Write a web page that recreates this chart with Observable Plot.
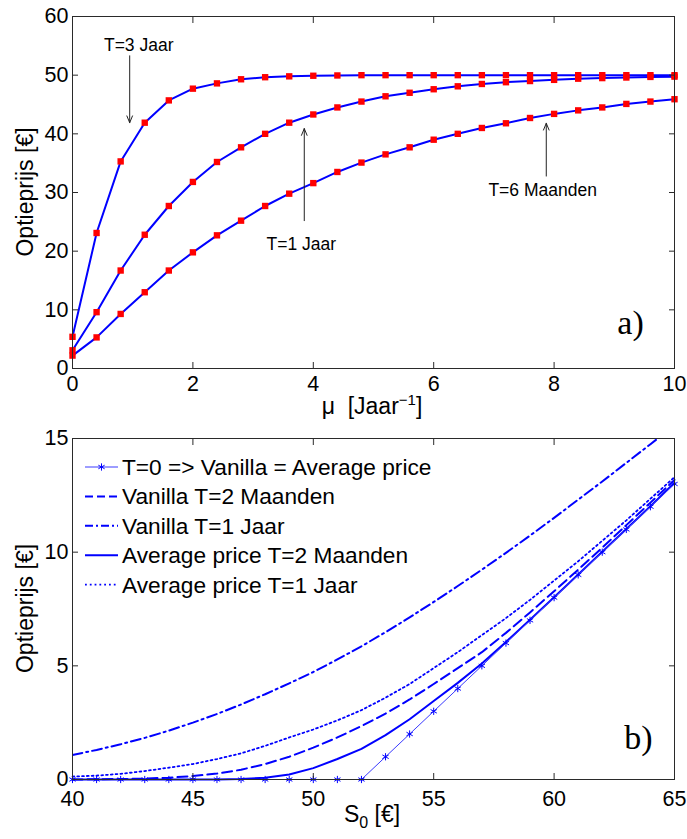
<!DOCTYPE html>
<html><head><meta charset="utf-8">
<script src="https://cdn.jsdelivr.net/npm/d3@7"></script>
<script src="https://cdn.jsdelivr.net/npm/@observablehq/plot@0.6"></script>
<style>
body{margin:0;background:#fff;font-family:"Liberation Sans",Arial,sans-serif}
#chart{width:687px}
svg{display:block}
</style></head><body><div id="chart"></div>
<script>
// ---------- Panel a) data ----------
const muValues = [0,0.4,0.8,1.2,1.6,2.0,2.4,2.8,3.2,3.6,4.0,4.4,4.8,5.2,5.6,6.0,6.4,6.8,7.2,7.6,8.0,8.4,8.8,9.2,9.6,10];
const priceT6m = [2.2,5.3,9.3,13.0,16.7,19.8,22.7,25.2,27.7,29.8,31.6,33.5,35.1,36.5,37.7,39.0,40.0,41.0,41.8,42.7,43.4,44.0,44.5,45.1,45.5,45.9];
const priceT1y = [3.1,9.6,16.7,22.8,27.7,31.8,35.2,37.7,40.0,41.9,43.3,44.5,45.5,46.4,47.0,47.6,48.1,48.5,48.8,49.0,49.2,49.4,49.5,49.6,49.7,49.75];
const priceT3y = [5.4,23.1,35.3,41.9,45.7,47.7,48.6,49.3,49.65,49.8,49.9,49.95,50,50,50,50,50,50,50,50,50,50,50,50,50,50];
const seriesNamesA = ["T=6 Maanden","T=1 Jaar","T=3 Jaar"];
const xTicksA = [0,2,4,6,8,10];
const yTicksA = [0,10,20,30,40,50,60];
// annotations (data space)
const annotLabels = ["T=3 Jaar","T=1 Jaar","T=6 Maanden"];
const annotTextMu = [1.1,3.8,7.81];
const annotTextPrice = [55.0,21.1,30.3];
const arrowMu = [0.95,3.85,7.87];
const arrowFromPrice = [53.3,25.2,32.8];
const arrowToPrice = [41.9,40.9,41.8];

// ---------- Panel b) data ----------
const S0 = [40,41,42,43,44,45,46,47,48,49,50,51,52,53,54,55,56,57,58,59,60,61,62,63,64,65];
const payoffT0   = [0,0,0,0,0,0,0,0,0,0,0,0,0,1,2,3,4,5,6,7,8,9,10,11,12,13];
const vanilla2m  = [0,0.01,0.02,0.04,0.08,0.15,0.26,0.43,0.68,1.0,1.4,1.85,2.35,2.9,3.52,4.2,4.9,5.6,6.45,7.35,8.28,9.23,10.2,11.19,12.18,13.18];
const vanilla1y  = [1.08,1.3,1.55,1.83,2.15,2.5,2.88,3.3,3.75,4.23,4.73,5.28,5.86,6.48,7.13,7.81,8.51,9.23,9.97,10.73,11.51,12.31,13.11,13.93,14.75,15.58];
const average2m  = [0,0,0,0,0,0,0,0.02,0.08,0.22,0.5,0.9,1.35,1.95,2.65,3.45,4.25,5.1,6.05,7.03,8.02,9.02,10.02,11.02,12.02,13.05];
const average1y  = [0.13,0.17,0.25,0.37,0.52,0.68,0.9,1.15,1.48,1.85,2.2,2.6,3.05,3.6,4.2,4.9,5.6,6.35,7.1,7.9,8.75,9.6,10.5,11.4,12.35,13.3];
const legendLabels = ["T=0 => Vanilla = Average price","Vanilla T=2 Maanden","Vanilla T=1 Jaar","Average price T=2 Maanden","Average price T=1 Jaar"];
const xTicksB = [40,45,50,55,60,65];
const yTicksB = [0,5,10,15];

// ---------- styling ----------
const BLUE = "#0000ff", RED = "#ff0000", AX = "#2a2a2a";
const FONT = "Liberation Sans, Arial, Helvetica, sans-serif";
const TICKFS = "21.5px";

// ---------- Panel a ----------
const topData = [];
[priceT6m, priceT1y, priceT3y].forEach((arr, k) =>
  arr.forEach((v, i) => topData.push({series: seriesNamesA[k], mu: muValues[i], price: v})));
const annot = annotLabels.map((t, i) => ({text: t, mu: annotTextMu[i], price: annotTextPrice[i],
  amu: arrowMu[i], from: arrowFromPrice[i], to: arrowToPrice[i]}));

const plotA = Plot.plot({
  width: 687, height: 420,
  marginTop: 16, marginLeft: 72, marginRight: 13, marginBottom: 52,
  style: {fontFamily: FONT, fontSize: TICKFS, color: "#000", background: "#fff", overflow: "visible"},
  x: {domain: [0, 10], label: null},
  y: {domain: [0, 60], label: null},
  marks: [
    Plot.line(topData, {x: "mu", y: "price", z: "series", stroke: BLUE, strokeWidth: 2}),
    Plot.dot(topData, {x: "mu", y: "price", symbol: "square", fill: RED, r: 3.6}),
    Plot.arrow(annot, {x1: "amu", y1: "from", x2: "amu", y2: "to", stroke: "#222", strokeWidth: 1, headLength: 11, headAngle: 45}),
    Plot.text(annot, {x: "mu", y: "price", text: "text", fontSize: 17.5, fill: "#000"}),
    Plot.text(["a)"], {x: () => 9.27, y: () => 7.8, text: d => d, fontFamily: "Liberation Serif, Times New Roman, serif", fontSize: 34}),
    Plot.frame({stroke: AX}),
    Plot.axisX({ticks: xTicksA, anchor: "bottom", tickSize: -6, tickPadding: 13, label: null, stroke: AX}),
    Plot.axisX({ticks: xTicksA, anchor: "top", tickSize: -6, fill: "none", label: null, stroke: AX}),
    Plot.axisY({ticks: yTicksA, anchor: "left", tickSize: -6, tickPadding: 10, label: null, stroke: AX}),
    Plot.axisY({ticks: yTicksA, anchor: "right", tickSize: -6, fill: "none", label: null, stroke: AX})
  ]
});

// ---------- Panel b ----------
const mk = arr => S0.map((s, i) => ({S: s, v: arr[i]}));
const plotB = Plot.plot({
  width: 687, height: 419,
  marginTop: 18, marginLeft: 72, marginRight: 13, marginBottom: 60,
  style: {fontFamily: FONT, fontSize: TICKFS, color: "#000", background: "#fff", overflow: "visible"},
  x: {domain: [40, 65], label: null},
  y: {domain: [0, 15], label: null},
  marks: [
    Plot.line(mk(vanilla1y), {x: "S", y: "v", stroke: BLUE, strokeWidth: 2, strokeDasharray: "10,4,2,4", clip: true}),
    Plot.line(mk(average1y), {x: "S", y: "v", stroke: BLUE, strokeWidth: 1.8, strokeDasharray: "1.8,3"}),
    Plot.line(mk(vanilla2m), {x: "S", y: "v", stroke: BLUE, strokeWidth: 2, strokeDasharray: "10,5"}),
    Plot.line(mk(average2m), {x: "S", y: "v", stroke: BLUE, strokeWidth: 2}),
    Plot.line(mk(payoffT0), {x: "S", y: "v", stroke: "#3a3aff", strokeWidth: 1}),
    Plot.dot(mk(payoffT0), {x: "S", y: "v", symbol: "asterisk", stroke: BLUE, strokeWidth: 1, r: 3.4}),
    Plot.text(["b)"], {x: () => 63.5, y: () => 1.8, text: d => d, fontFamily: "Liberation Serif, Times New Roman, serif", fontSize: 34}),
    Plot.frame({stroke: AX}),
    Plot.axisX({ticks: xTicksB, anchor: "bottom", tickSize: -6, tickPadding: 17, label: null, stroke: AX}),
    Plot.axisX({ticks: xTicksB, anchor: "top", tickSize: -6, fill: "none", label: null, stroke: AX}),
    Plot.axisY({ticks: yTicksB, anchor: "left", tickSize: -6, tickPadding: 10, label: null, stroke: AX}),
    Plot.axisY({ticks: yTicksB, anchor: "right", tickSize: -6, fill: "none", label: null, stroke: AX})
  ]
});

// ---------- axis titles ----------
function yTitle(svg, cy) {
  d3.select(svg).append("text")
    .attr("transform", `translate(33,${cy}) rotate(-90)`)
    .attr("text-anchor", "middle").attr("font-family", FONT).attr("font-size", 23)
    .attr("fill", "#000").text("Optieprijs [€]");
}
yTitle(plotA, 192);
yTitle(plotB, 188.5);

const tA = d3.select(plotA).append("text").attr("x", 372).attr("y", 414)
  .attr("text-anchor", "middle").attr("font-family", FONT).attr("font-size", 23).attr("fill", "#000");
tA.append("tspan").text("μ  [Jaar");
tA.append("tspan").attr("dy", -9).attr("font-size", 15).text("−1");
tA.append("tspan").attr("dy", 9).text("]");

const tB = d3.select(plotB).append("text").attr("x", 372).attr("y", 402)
  .attr("text-anchor", "middle").attr("font-family", FONT).attr("font-size", 23).attr("fill", "#000");
tB.append("tspan").text("S");
tB.append("tspan").attr("dy", 6).attr("font-size", 16).text("0");
tB.append("tspan").attr("dy", -6).text(" [€]");

// ---------- legend (panel b) ----------
const legendStyles = [
  {dash: null, w: 1, marker: true},
  {dash: "8,4", w: 2},
  {dash: "8,3,2,3", w: 2},
  {dash: null, w: 2},
  {dash: "1.8,3", w: 1.8}
];
const lg = d3.select(plotB).append("g").attr("text-anchor", "start");
legendLabels.forEach((label, i) => {
  const y = 47 + i * 29.4;
  const st = legendStyles[i];
  lg.append("line").attr("x1", 85).attr("x2", 118).attr("y1", y).attr("y2", y)
    .attr("stroke", i === 0 ? "#3a3aff" : BLUE).attr("stroke-width", st.w)
    .attr("stroke-dasharray", st.dash);
  if (st.marker) {
    lg.append("path").attr("d", d3.symbol(d3.symbolAsterisk, Math.PI * 3.4 * 3.4)())
      .attr("transform", `translate(101.5,${y})`).attr("stroke", BLUE).attr("fill", "none");
  }
  lg.append("text").attr("x", 122).attr("y", y).attr("dy", "0.35em")
    .attr("text-anchor", "start")
    .attr("font-family", FONT).attr("font-size", 22.7).attr("fill", "#000").text(label);
});

document.getElementById("chart").append(plotA, plotB);
</script>
</body></html>
